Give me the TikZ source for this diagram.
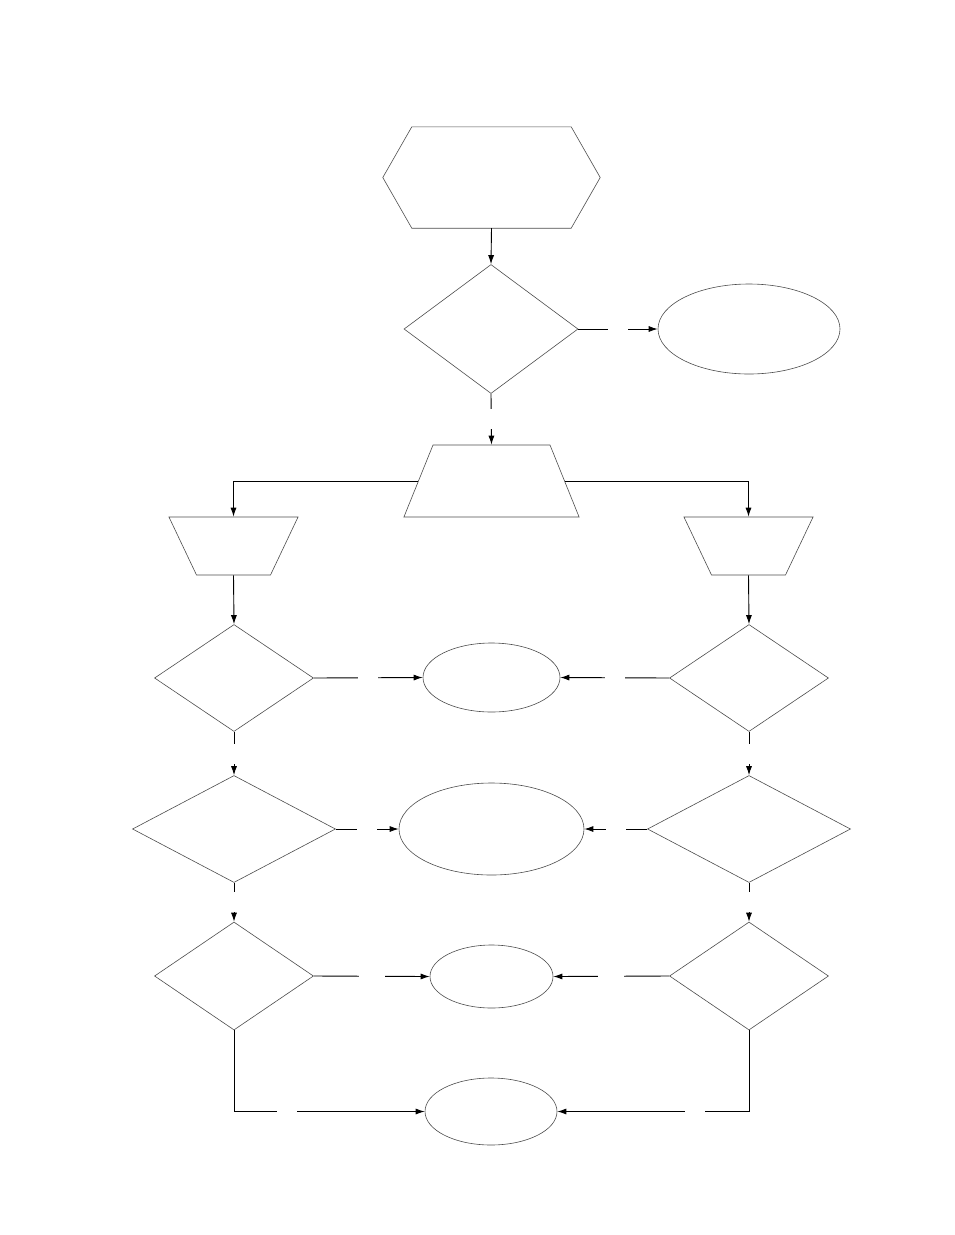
\documentclass[tikz,border=0pt]{standalone}
\usetikzlibrary{shapes.geometric,arrows.meta}
\begin{document}
\begin{tikzpicture}[x=1pt,y=-1pt,
    outline/.style={draw=black!70,line width=0.6pt,inner sep=0pt},
    decision/.style={outline,diamond},
    terminal/.style={outline,ellipse},
    conn/.style={line width=0.9pt,-{Latex[length=9pt,width=6pt]}},
    gap/.style={fill=white,inner sep=0pt,minimum width=20pt,minimum height=20pt}]
  \useasboundingbox (0,0) rectangle (954,1235);
  % top part
  \node[inner sep=0pt,minimum width=217pt,minimum height=101pt] (start) at (491.5,177.5) {};
  \draw[outline] (start.west) -- ([xshift=29pt]start.north west) -- ([xshift=-29pt]start.north east)
    -- (start.east) -- ([xshift=-29pt]start.south east) -- ([xshift=29pt]start.south west) -- cycle;
  \node[decision,minimum width=174pt,minimum height=129pt] (q0) at (491,329) {};
  \node[terminal,minimum width=182pt,minimum height=90pt] (out0) at (749,329) {};
  \node[outline,trapezium,trapezium angle=68,inner xsep=58.5pt,inner ysep=36pt] (mux) at (491.5,481) {};
  \node[outline,trapezium,trapezium angle=64.6,shape border rotate=180,
        inner xsep=37pt,inner ysep=29pt] (inL) at (233.5,546) {};
  \node[outline,trapezium,trapezium angle=64.6,shape border rotate=180,
        inner xsep=37pt,inner ysep=29pt] (inR) at (748.5,546) {};
  % left and right branches
  \node[decision,minimum width=159pt,minimum height=107pt] (qL1) at (234,678) {};
  \node[decision,minimum width=159pt,minimum height=107pt] (qR1) at (749,678) {};
  \node[terminal,minimum width=137pt,minimum height=69pt] (res1) at (491.5,677.5) {};
  \node[decision,minimum width=203pt,minimum height=107pt] (qL2) at (234,829) {};
  \node[decision,minimum width=203pt,minimum height=107pt] (qR2) at (749,829) {};
  \node[terminal,minimum width=185pt,minimum height=92pt] (res2) at (491.5,829) {};
  \node[decision,minimum width=159pt,minimum height=108pt] (qL3) at (234,976) {};
  \node[decision,minimum width=159pt,minimum height=108pt] (qR3) at (749,976) {};
  \node[terminal,minimum width=123pt,minimum height=63pt] (res3) at (491.5,976.5) {};
  \node[terminal,minimum width=132pt,minimum height=67pt] (res4) at (491,1111.5) {};
  % connectors
  \draw[conn] (start.south) -- (q0.north);
  \draw[conn] (q0.east) -- node[gap] {} (out0.west);
  \draw[conn] (q0.south) -- node[gap] {} (mux.north);
  \draw[conn] (mux.west) -| (inL.north);
  \draw[conn] (mux.east) -| (inR.north);
  \draw[conn] (inL.south) -- (qL1.north);
  \draw[conn] (inR.south) -- (qR1.north);
  \draw[conn] (qL1.east) -- node[gap] {} (res1.west);
  \draw[conn] (qR1.west) -- node[gap] {} (res1.east);
  \draw[conn] (qL1.south) -- node[gap] {} (qL2.north);
  \draw[conn] (qR1.south) -- node[gap] {} (qR2.north);
  \draw[conn] (qL2.east) -- node[gap] {} (res2.west);
  \draw[conn] (qR2.west) -- node[gap] {} (res2.east);
  \draw[conn] (qL2.south) -- node[gap] {} (qL3.north);
  \draw[conn] (qR2.south) -- node[gap] {} (qR3.north);
  \draw[conn] (qL3.east) -- node[gap,minimum width=26pt] {} (res3.west);
  \draw[conn] (qR3.west) -- node[gap,minimum width=26pt] {} (res3.east);
  \draw[conn] (qL3.south) |- node[gap,pos=0.64] {} (res4.west);
  \draw[conn] (qR3.south) |- node[gap,pos=0.64] {} (res4.east);
\end{tikzpicture}
\end{document}
